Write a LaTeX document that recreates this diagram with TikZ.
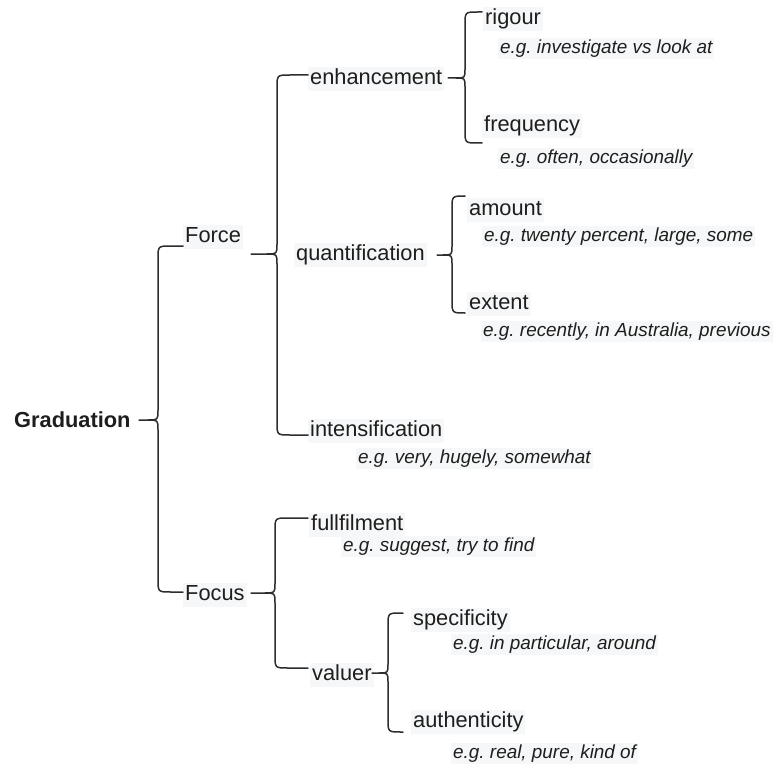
\documentclass[tikz,border=0pt]{standalone}
\usepackage{fontspec}
\setmainfont{Liberation Sans}
\frenchspacing
\definecolor{labelbg}{RGB}{246,247,248}
\definecolor{ink}{RGB}{30,30,30}
\definecolor{bracecol}{RGB}{45,45,45}
\tikzset{
  term/.style={anchor=west, inner sep=2, fill=labelbg, text=ink, yshift=-1.5,
    font=\fontsize{21.8}{25}\selectfont, text height=15.5, text depth=4.5},
  root/.style={term, fill=none, font=\fontsize{21.8}{25}\selectfont\bfseries},
  example/.style={anchor=west, inner sep=2, fill=labelbg, text=ink, yshift=-1.5,
    font=\fontsize{18.9}{22}\selectfont\itshape, text height=13.5, text depth=4},
  curly/.style={draw=bracecol, line width=1.5, line join=round, line cap=round}
}
% \curlybrace{tick start x}{spine x}{arm end x}{top y}{middle y}{bottom y}{cusp size}
\newcommand\curlybrace[7]{%
  \draw[curly] (#1,#5) -- ({#2-#7},#5)
    .. controls (#2,#5) .. (#2,{#5-#7}) -- (#2,{#4+13})
    .. controls (#2,#4) .. ({#2+13},#4) -- (#3,#4);
  \draw[curly] ({#2-#7},#5)
    .. controls (#2,#5) .. (#2,{#5+#7}) -- (#2,{#6-13})
    .. controls (#2,#6) .. ({#2+13},#6) -- (#3,#6);
}
\begin{document}
\begin{tikzpicture}[x=1pt,y=-1pt]
\useasboundingbox (0,0) rectangle (774,765);

% terms
\node[root] (grad) at (12,420) {Graduation};
\node[term] (force) at (183,235) {Force};
\node[term] (focus) at (183,593) {Focus};
\node[term] (enh) at (308,78) {enhancement};
\node[term] (quant) at (294,253) {quantification};
\node[term] (inten) at (308,429) {intensification};
\node[term] (rig) at (483,18) {rigour};
\node[term] (freq) at (482,125) {frequency};
\node[term] (amt) at (467,208) {amount};
\node[term] (ext) at (467,302) {extent};
\node[term] (full) at (309,523) {fullfilment};
\node[term] (val) at (310,673) {valuer};
\node[term] (spec) at (411,618) {specificity};
\node[term] (auth) at (411,720) {authenticity};

% examples
\node[example] (exrig) at (498,47) {e.g. investigate vs look at};
\node[example] (exfreq) at (498,157) {e.g. often, occasionally};
\node[example] (examt) at (482,235) {e.g. twenty percent, large, some};
\node[example] (exext) at (481,330) {e.g. recently, in Australia, previous};
\node[example] (exint) at (356,457) {e.g. very, hugely, somewhat};
\node[example] (exfull) at (341,545) {e.g. suggest, try to find};
\node[example] (exspec) at (451,643) {e.g. in particular, around};
\node[example] (exauth) at (451,752) {e.g. real, pure, kind of};

% braces
\curlybrace{139}{158}{183}{246}{420}{592}{10}
\curlybrace{251}{277}{308}{75}{254}{435}{10}
\curlybrace{448}{465}{482}{12}{78}{143}{9}
\curlybrace{437}{452}{465}{196}{255}{313}{9}
\curlybrace{251}{275}{308}{518}{593}{668}{10}
\curlybrace{372}{388}{403}{613}{673}{732}{9}
\end{tikzpicture}
\end{document}
